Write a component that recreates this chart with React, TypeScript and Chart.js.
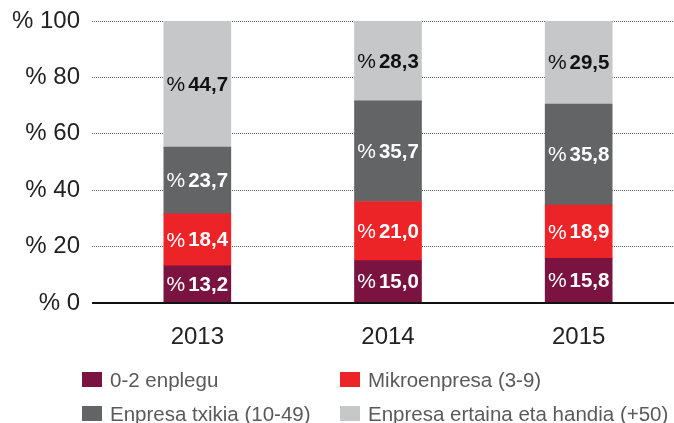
import React, { useEffect, useRef } from "react";
import { Chart, registerables } from "chart.js";

Chart.register(...registerables);

const years = ["2013", "2014", "2015"];
const seriesNames = ["0-2 enplegu", "Mikroenpresa (3-9)", "Enpresa txikia (10-49)", "Enpresa ertaina eta handia (+50)"];
const micro02 = [13.2, 15.0, 15.8];
const mikro = [18.4, 21.0, 18.9];
const txikia = [23.7, 35.7, 35.8];
const ertaina = [44.7, 28.3, 29.5];
const colors = ["#7b1340", "#ec2327", "#636466", "#c6c7c9"];
const labelColors = ["#ffffff", "#ffffff", "#ffffff", "#111111"];
const yTicks = [0, 20, 40, 60, 80, 100];

const FONT = '"Liberation Sans", Arial, Helvetica, sans-serif';

const fmt = (v: number) => v.toFixed(1).replace(".", ",");

const barLabels = {
  id: "barLabels",
  afterDatasetsDraw(chart: any) {
    const ctx = chart.ctx;
    chart.data.datasets.forEach((ds: any, di: number) => {
      const meta = chart.getDatasetMeta(di);
      meta.data.forEach((el: any, i: number) => {
        const v = ds.data[i];
        const cx = el.x;
        const cy = (el.y + el.base) / 2 + 1;
        ctx.save();
        ctx.fillStyle = labelColors[di];
        ctx.textBaseline = "middle";
        ctx.textAlign = "left";
        const pFont = `21px ${FONT}`;
        const nFont = `bold 20.5px ${FONT}`;
        ctx.font = pFont;
        const pw = ctx.measureText("%").width;
        ctx.font = nFont;
        const num = fmt(v);
        const nw = ctx.measureText(num).width;
        const gap = 3;
        const total = pw + gap + nw;
        const x0 = cx - total / 2;
        ctx.font = pFont;
        ctx.fillText("%", x0, cy);
        ctx.font = nFont;
        ctx.fillText(num, x0 + pw + gap, cy);
        ctx.restore();
      });
    });
  },
  afterDraw(chart: any) {
    const ctx = chart.ctx;
    const y = chart.scales.y.getPixelForValue(0);
    ctx.save();
    ctx.strokeStyle = "#111111";
    ctx.lineWidth = 2;
    ctx.beginPath();
    ctx.moveTo(chart.chartArea.left - 10, y);
    ctx.lineTo(chart.chartArea.right, y);
    ctx.stroke();
    ctx.restore();
  },
};

export default function App() {
  const ref = useRef<HTMLCanvasElement>(null);
  useEffect(() => {
    const series = [micro02, mikro, txikia, ertaina];
    const chart = new Chart(ref.current as HTMLCanvasElement, {
      type: "bar",
      data: {
        labels: years,
        datasets: series.map((d, i) => ({
          label: seriesNames[i],
          data: d,
          backgroundColor: colors[i],
          borderWidth: 0,
          barThickness: 67,
        })),
      },
      options: {
        animation: false,
        responsive: false,
        maintainAspectRatio: false,
        layout: { padding: { top: 21, bottom: 70, left: 0, right: 0 } },
        plugins: { legend: { display: false }, tooltip: { enabled: false } },
        scales: {
          x: {
            stacked: true,
            grid: { display: false },
            border: { display: false },
            ticks: {
              color: "#222222",
              font: { family: FONT, size: 24 },
              padding: 12,
            },
            afterFit: (s: any) => {
              s.height = 50;
            },
          },
          y: {
            stacked: true,
            min: 0,
            max: 100,
            afterBuildTicks: (s: any) => {
              s.ticks = yTicks.map((v) => ({ value: v }));
            },
            grid: {
              color: "#666666",
              lineWidth: 1,
              tickLength: 10,
              tickColor: "#666666",
              tickBorderDash: [1, 1],
              drawTicks: true,
            },
            border: { display: false, dash: [1, 1] },
            ticks: {
              color: "#222222",
              font: { family: FONT, size: 24, lineHeight: 0.5 },
              padding: 12,
              callback: (v: any) => "% " + v,
            },
            afterFit: (s: any) => {
              s.width = 102;
            },
          },
        },
      },
      plugins: [barLabels],
    });
    return () => chart.destroy();
  }, []);

  const legendItem = (i: number, left: number, top: number) => (
    <div
      key={i}
      style={{ position: "absolute", left, top, display: "flex", alignItems: "center", height: 15 }}
    >
      <div style={{ width: 20, height: 15, background: colors[i] }} />
      <span
        style={{
          marginLeft: 8,
          fontFamily: FONT,
          fontSize: 20.5,
          color: "#5a5a5a",
          whiteSpace: "nowrap",
          lineHeight: "15px",
        }}
      >
        {seriesNames[i]}
      </span>
    </div>
  );

  return (
    <div style={{ position: "absolute", left: 0, top: 0, width: 674, height: 423, background: "#fff" }}>
      <canvas ref={ref} width={674} height={423} style={{ display: "block" }} />
      {legendItem(0, 82, 372)}
      {legendItem(1, 340, 372)}
      {legendItem(2, 82, 406)}
      {legendItem(3, 340, 406)}
    </div>
  );
}
